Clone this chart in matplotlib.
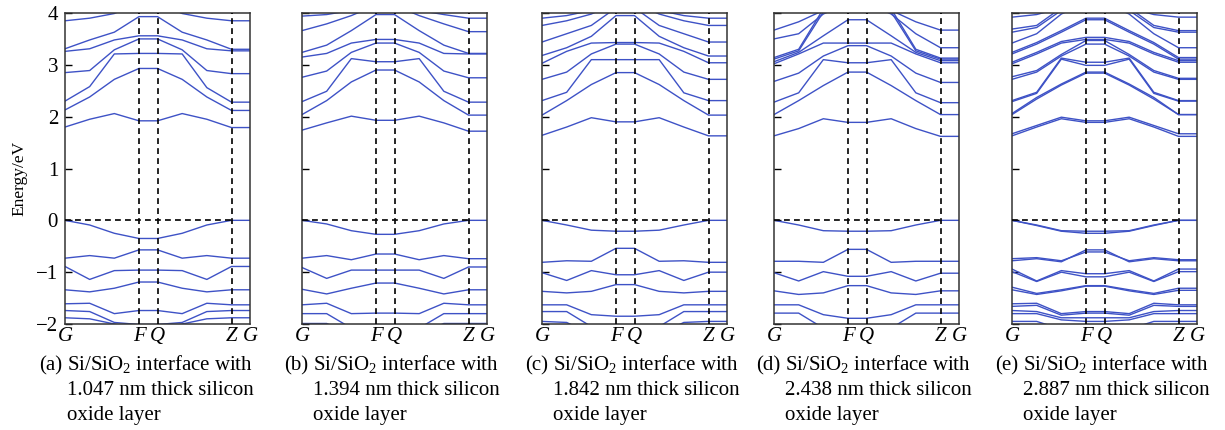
import matplotlib
matplotlib.use("Agg")
import matplotlib.pyplot as plt

plt.rcParams['font.family'] = ['Liberation Serif', 'DejaVu Serif']
plt.rcParams['mathtext.fontset'] = 'custom'
plt.rcParams['mathtext.rm'] = 'Liberation Serif'
plt.rcParams['mathtext.it'] = 'Liberation Serif:italic'

# ---------------- data ----------------
k_path = [0, 1, 2, 3, 3.75, 4.75, 5.75, 6.75, 7.5]
tick_idx = [0, 3, 4, 7, 8]
tick_labels = ['G', 'F', 'Q', 'Z', 'G']

bands_a = [
    [1.80, 1.95, 2.06, 1.92, 1.92, 2.06, 1.95, 1.79, 1.79],
    [2.13, 2.38, 2.72, 2.93, 2.93, 2.72, 2.38, 2.12, 2.12],
    [2.30, 2.58, 3.21, 3.22, 3.22, 3.21, 2.56, 2.28, 2.28],
    [2.85, 2.89, 3.29, 3.50, 3.50, 3.29, 2.89, 2.83, 2.83],
    [3.26, 3.31, 3.48, 3.56, 3.56, 3.48, 3.31, 3.27, 3.27],
    [3.31, 3.48, 3.63, 3.93, 3.93, 3.63, 3.48, 3.30, 3.30],
    [3.85, 3.90, 3.99, 4.20, 4.20, 3.99, 3.90, 3.85, 3.85],
    [0.00, -0.09, -0.25, -0.35, -0.35, -0.25, -0.09, 0.00, 0.00],
    [-0.73, -0.68, -0.73, -0.57, -0.57, -0.73, -0.68, -0.73, -0.73],
    [-0.89, -1.14, -0.97, -0.96, -0.96, -0.97, -1.14, -0.89, -0.89],
    [-1.34, -1.38, -1.31, -1.19, -1.19, -1.31, -1.38, -1.34, -1.34],
    [-1.61, -1.60, -1.80, -1.74, -1.74, -1.80, -1.60, -1.63, -1.63],
    [-1.74, -1.76, -1.97, -2.01, -2.01, -1.97, -1.76, -1.74, -1.74],
    [-1.88, -1.90, -2.00, -2.10, -2.10, -2.00, -1.90, -1.88, -1.88],
]

bands_b = [
    [1.74, 1.88, 2.01, 1.93, 1.93, 2.01, 1.88, 1.72, 1.72],
    [2.04, 2.31, 2.67, 2.90, 2.90, 2.67, 2.31, 2.03, 2.03],
    [2.29, 2.49, 3.12, 3.06, 3.06, 3.12, 2.49, 2.28, 2.28],
    [2.76, 2.88, 3.24, 3.42, 3.42, 3.24, 2.88, 2.75, 2.75],
    [3.15, 3.22, 3.42, 3.49, 3.49, 3.42, 3.22, 3.21, 3.21],
    [3.24, 3.38, 3.66, 3.97, 3.97, 3.66, 3.38, 3.22, 3.22],
    [3.66, 3.79, 3.95, 4.15, 4.15, 3.95, 3.79, 3.64, 3.64],
    [3.94, 3.97, 4.05, 4.25, 4.25, 4.05, 3.97, 3.90, 3.90],
    [0.00, -0.07, -0.20, -0.27, -0.27, -0.20, -0.07, 0.00, 0.00],
    [-0.73, -0.68, -0.76, -0.65, -0.65, -0.76, -0.68, -0.74, -0.74],
    [-0.91, -1.12, -0.96, -0.96, -0.96, -0.96, -1.12, -0.90, -0.90],
    [-1.33, -1.42, -1.31, -1.21, -1.21, -1.31, -1.42, -1.34, -1.34],
    [-1.63, -1.60, -1.80, -1.79, -1.79, -1.80, -1.60, -1.63, -1.63],
    [-1.80, -1.80, -2.08, -2.15, -2.15, -2.08, -1.80, -1.80, -1.80],
    [-1.99, -1.99, -2.20, -2.30, -2.30, -2.20, -1.99, -1.99, -1.99],
]

bands_c = [
    [1.64, 1.80, 1.98, 1.90, 1.90, 1.98, 1.80, 1.63, 1.63],
    [2.03, 2.31, 2.62, 2.85, 2.85, 2.62, 2.31, 2.03, 2.03],
    [2.31, 2.47, 3.10, 3.10, 3.10, 3.10, 2.46, 2.31, 2.31],
    [2.72, 2.86, 3.21, 3.40, 3.40, 3.21, 2.86, 2.72, 2.72],
    [3.03, 3.26, 3.42, 3.43, 3.43, 3.42, 3.26, 3.04, 3.04],
    [3.18, 3.33, 3.55, 3.95, 3.95, 3.55, 3.33, 3.17, 3.17],
    [3.44, 3.60, 3.76, 4.10, 4.10, 3.76, 3.60, 3.44, 3.44],
    [3.76, 3.85, 3.98, 4.20, 4.20, 3.98, 3.85, 3.76, 3.76],
    [3.90, 3.95, 4.05, 4.30, 4.30, 4.05, 3.95, 3.90, 3.90],
    [0.00, -0.09, -0.19, -0.21, -0.21, -0.19, -0.09, 0.00, 0.00],
    [-0.81, -0.78, -0.79, -0.54, -0.54, -0.79, -0.78, -0.81, -0.81],
    [-1.01, -1.16, -0.97, -1.05, -1.05, -0.97, -1.16, -1.00, -1.00],
    [-1.37, -1.40, -1.37, -1.24, -1.24, -1.37, -1.40, -1.37, -1.37],
    [-1.63, -1.63, -1.82, -1.85, -1.85, -1.82, -1.63, -1.63, -1.63],
    [-1.76, -1.76, -2.05, -2.15, -2.15, -2.05, -1.76, -1.76, -1.76],
    [-1.95, -1.97, -2.20, -2.30, -2.30, -2.20, -1.97, -1.95, -1.95],
]

bands_d = [
    [1.63, 1.77, 1.96, 1.89, 1.89, 1.96, 1.77, 1.62, 1.62],
    [2.04, 2.31, 2.60, 2.86, 2.86, 2.60, 2.31, 2.04, 2.04],
    [2.28, 2.46, 3.10, 3.04, 3.04, 3.10, 2.46, 2.27, 2.27],
    [2.68, 2.84, 3.17, 3.37, 3.37, 3.17, 2.84, 2.66, 2.66],
    [3.02, 3.21, 3.42, 3.42, 3.42, 3.42, 3.21, 3.04, 3.04],
    [3.06, 3.24, 3.56, 3.87, 3.87, 3.56, 3.24, 3.08, 3.08],
    [3.11, 3.27, 4.02, 4.30, 4.30, 4.02, 3.27, 3.11, 3.11],
    [3.14, 3.30, 4.08, 4.35, 4.35, 4.08, 3.30, 3.13, 3.13],
    [3.50, 3.60, 3.98, 4.20, 4.20, 3.98, 3.60, 3.33, 3.33],
    [3.67, 3.83, 4.05, 4.30, 4.30, 4.05, 3.83, 3.67, 3.67],
    [0.00, -0.09, -0.20, -0.21, -0.21, -0.20, -0.09, 0.00, 0.00],
    [-0.79, -0.79, -0.81, -0.56, -0.56, -0.81, -0.79, -0.79, -0.79],
    [-1.01, -1.17, -0.99, -1.08, -1.08, -0.99, -1.17, -1.02, -1.02],
    [-1.36, -1.43, -1.40, -1.26, -1.26, -1.40, -1.43, -1.36, -1.36],
    [-1.63, -1.63, -1.82, -1.89, -1.89, -1.82, -1.63, -1.63, -1.63],
    [-1.79, -1.79, -2.08, -2.20, -2.20, -2.08, -1.79, -1.79, -1.79],
]

bands_e = [
    [1.67, 1.83, 1.99, 1.92, 1.92, 1.99, 1.83, 1.67, 1.67],
    [1.63, 1.80, 1.96, 1.89, 1.89, 1.96, 1.80, 1.62, 1.62],
    [2.06, 2.37, 2.63, 2.86, 2.86, 2.63, 2.37, 2.04, 2.04],
    [2.04, 2.34, 2.61, 2.84, 2.84, 2.61, 2.34, 2.04, 2.04],
    [2.31, 2.47, 3.13, 3.05, 3.05, 3.13, 2.47, 2.31, 2.31],
    [2.29, 2.45, 3.11, 2.99, 2.99, 3.11, 2.45, 2.30, 2.30],
    [2.72, 2.86, 3.17, 3.40, 3.40, 3.17, 2.86, 2.72, 2.72],
    [2.77, 2.89, 3.20, 3.47, 3.47, 3.20, 2.89, 2.74, 2.74],
    [3.02, 3.21, 3.42, 3.49, 3.49, 3.42, 3.21, 3.05, 3.05],
    [3.05, 3.24, 3.45, 3.53, 3.53, 3.45, 3.24, 3.08, 3.08],
    [3.21, 3.40, 3.63, 3.87, 3.87, 3.63, 3.40, 3.11, 3.11],
    [3.24, 3.43, 3.66, 3.90, 3.90, 3.66, 3.43, 3.14, 3.14],
    [3.42, 3.60, 3.98, 4.20, 4.20, 3.98, 3.60, 3.33, 3.33],
    [3.63, 3.72, 4.05, 4.30, 4.30, 4.05, 3.72, 3.63, 3.63],
    [3.69, 3.76, 4.10, 4.30, 4.30, 4.10, 3.76, 3.66, 3.66],
    [3.92, 3.97, 4.10, 4.30, 4.30, 4.10, 3.97, 3.92, 3.92],
    [0.00, -0.10, -0.21, -0.25, -0.25, -0.21, -0.10, 0.00, 0.00],
    [0.00, -0.09, -0.20, -0.21, -0.21, -0.20, -0.09, 0.00, 0.00],
    [-0.78, -0.74, -0.80, -0.57, -0.57, -0.80, -0.74, -0.78, -0.78],
    [-0.74, -0.72, -0.78, -0.61, -0.61, -0.78, -0.72, -0.76, -0.76],
    [-0.94, -1.17, -0.97, -1.03, -1.03, -0.97, -1.17, -0.94, -0.94],
    [-0.99, -1.18, -1.00, -1.09, -1.09, -1.00, -1.18, -0.99, -0.99],
    [-1.29, -1.41, -1.34, -1.26, -1.26, -1.34, -1.41, -1.31, -1.31],
    [-1.34, -1.43, -1.36, -1.27, -1.27, -1.36, -1.43, -1.35, -1.35],
    [-1.61, -1.60, -1.80, -1.76, -1.76, -1.80, -1.60, -1.63, -1.63],
    [-1.66, -1.64, -1.83, -1.79, -1.79, -1.83, -1.64, -1.66, -1.66],
    [-1.74, -1.76, -1.88, -1.88, -1.88, -1.88, -1.76, -1.74, -1.74],
    [-1.80, -1.80, -1.92, -1.95, -1.95, -1.92, -1.80, -1.80, -1.80],
    [-1.95, -1.95, -2.10, -2.20, -2.20, -2.10, -1.95, -1.95, -1.95],
]

panel_letters = ['(a)', '(b)', '(c)', '(d)', '(e)']
thickness = ['1.047', '1.394', '1.842', '2.438', '2.887']
all_bands = [bands_a, bands_b, bands_c, bands_d, bands_e]
yticks = [-2, -1, 0, 1, 2, 3, 4]
ytick_text = ['\u22122', '\u22121', '0', '1', '2', '3', '4']

# ---------------- layout ----------------
W, H = 1225, 430
fig = plt.figure(figsize=(W / 100, H / 100), dpi=100)
lefts = [65, 302, 542, 774, 1012]
ax_w = 185
ax_top, ax_bot = 13, 324
indents = [67, 313, 553, 785, 1023]

band_color = '#3E52C6'
dash = (0, (3.5, 2.5))

for i, bands in enumerate(all_bands):
    ax = fig.add_axes([lefts[i] / W, 1 - ax_bot / H, ax_w / W, (ax_bot - ax_top) / H])
    for b in bands:
        ax.plot(k_path, b, color=band_color, lw=1.0)
    for j in tick_idx[1:4]:
        ax.axvline(k_path[j], color='black', lw=1.2, ls=dash, zorder=3)
    ax.plot([k_path[0], k_path[7]], [0, 0], color='black', lw=1.2, ls=dash, zorder=3)
    ax.set_xlim(k_path[0], k_path[-1])
    ax.set_ylim(-2, 4)
    ax.set_xticks([k_path[j] for j in tick_idx])
    ax.set_xticklabels(tick_labels, fontstyle='italic', fontsize=15)
    ax.tick_params(axis='x', length=0, pad=2)
    ax.set_yticks(yticks)
    ax.tick_params(axis='y', direction='in', length=5, width=1.0, pad=5, labelsize=15,
                   left=True, right=False)
    if i > 0:
        ax.set_yticklabels([])
    else:
        ax.set_yticklabels(ytick_text)
    for s in ax.spines.values():
        s.set_linewidth(1.1)
        s.set_color('#333333')

    # caption with hanging indent
    xi = indents[i] / W
    fig.text(xi - 5 / W, 1 - 370 / H, panel_letters[i], ha='right', va='baseline', fontsize=15)
    fig.text(xi, 1 - 370 / H, r'Si/SiO$_2$ interface with', ha='left', va='baseline', fontsize=15)
    fig.text(xi, 1 - 395 / H, thickness[i] + ' nm thick silicon', ha='left', va='baseline', fontsize=15)
    fig.text(xi, 1 - 420 / H, 'oxide layer', ha='left', va='baseline', fontsize=15)

fig.text(19 / W, 1 - 178 / H, 'Energy/eV', rotation=90, ha='center', va='center', fontsize=12.5)

fig.savefig('out.png', dpi=100)
